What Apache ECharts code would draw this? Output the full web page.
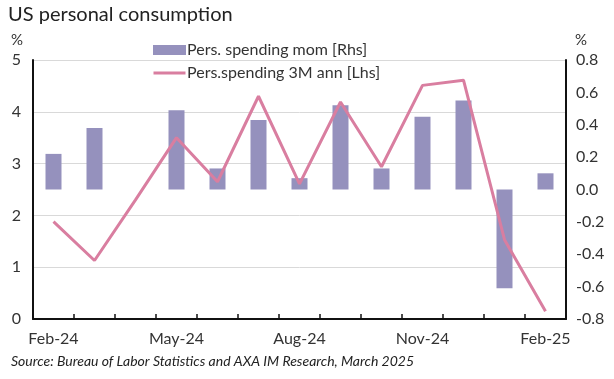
<!DOCTYPE html>
<html>
<head>
<meta charset="utf-8">
<script src="https://cdn.jsdelivr.net/npm/echarts@6/dist/echarts.min.js"></script>
<style>
html,body{margin:0;padding:0;background:#fff;}
#chart{width:614px;height:379px;}
</style>
</head>
<body>
<div id="chart"></div>
<script>
const categories = ['Feb-24','Mar-24','Apr-24','May-24','Jun-24','Jul-24','Aug-24','Sep-24','Oct-24','Nov-24','Dec-24','Jan-25','Feb-25'];
const spendingMom = [0.22, 0.38, 0.0, 0.49, 0.13, 0.43, 0.07, 0.52, 0.13, 0.45, 0.55, -0.61, 0.10];
const spending3mAnn = [1.88, 1.13, 2.3, 3.50, 2.65, 4.30, 2.61, 4.19, 2.94, 4.51, 4.61, 1.53, 0.15];
const leftTicks = [0, 5, 1];
const rightTicks = [-0.8, 0.8, 0.2];

const FONT = 'Lato, "Open Sans", sans-serif';
const LINE_ICON = 'path://M0,0 L0.01,0 L0.01,0.01 Z M0,3.6 L32,3.6 L32,6.4 L0,6.4 Z M32,10 L31.99,10 L31.99,9.99 Z';
const chart = echarts.init(document.getElementById('chart'));
chart.setOption({
  animation: false,
  backgroundColor: '#fff',
  textStyle: { fontFamily: FONT },
  grid: { left: 33, right: 48, top: 60, bottom: 60, containLabel: false },
  legend: {
    orient: 'vertical',
    left: 148,
    top: 37,
    itemWidth: 33,
    itemHeight: 10,
    itemGap: 7,
    textStyle: { fontFamily: FONT, fontSize: 16, color: '#333', padding: [0,0,0,-4] },
    data: [
      { name: 'Pers. spending mom [Rhs]', icon: 'rect' },
      { name: 'Pers.spending 3M ann [Lhs]', icon: LINE_ICON, itemStyle: { color: '#d97ea0' } }
    ]
  },
  graphic: [
    { type: 'text', left: 8, top: 5, style: { text: 'US personal consumption', fontFamily: FONT, fontSize: 20, fill: '#222' } },
    { type: 'text', left: 11, top: 33, style: { text: '%', fontFamily: FONT, fontSize: 15, fill: '#333' } },
    { type: 'text', left: 575, top: 33, style: { text: '%', fontFamily: FONT, fontSize: 15, fill: '#333' } },
    { type: 'text', left: 11, top: 354, style: { text: 'Source: Bureau of Labor Statistics and AXA IM Research, March 2025', fontFamily: FONT, fontSize: 14, fontStyle: 'italic', fill: '#222' } }
  ],
  xAxis: {
    type: 'category',
    data: categories,
    boundaryGap: true,
    axisLine: { show: true, onZero: false, lineStyle: { color: '#111', width: 2 } },
    axisTick: { show: true, inside: true, length: 5, interval: 0, lineStyle: { color: '#111', width: 1.5 } },
    axisLabel: { interval: 2, fontFamily: FONT, fontSize: 16, color: '#333', margin: 12 }
  },
  yAxis: [
    {
      type: 'value', min: leftTicks[0], max: leftTicks[1], interval: leftTicks[2], position: 'left',
      axisLine: { show: true, lineStyle: { color: '#111', width: 2 } },
      axisTick: { show: false },
      splitLine: { show: true, lineStyle: { color: '#d9d9d9', width: 1 } },
      axisLabel: { fontFamily: FONT, fontSize: 16, color: '#333', margin: 12 }
    },
    {
      type: 'value', min: rightTicks[0], max: rightTicks[1], interval: rightTicks[2], position: 'right',
      axisLine: { show: true, lineStyle: { color: '#111', width: 2 } },
      axisTick: { show: false },
      splitLine: { show: false },
      axisLabel: { fontFamily: FONT, fontSize: 16, color: '#333', margin: 10,
        formatter: v => (Math.abs(v) < 1e-9 ? 0 : v).toFixed(1) }
    }
  ],
  series: [
    {
      name: 'Pers. spending mom [Rhs]',
      type: 'bar',
      yAxisIndex: 1,
      data: spendingMom,
      barWidth: 16,
      itemStyle: { color: '#9591bd' },
      z: 2
    },
    {
      name: 'Pers.spending 3M ann [Lhs]',
      type: 'line',
      yAxisIndex: 0,
      data: spending3mAnn,
      symbol: 'none',
      lineStyle: { color: '#d97ea0', width: 3 },
      itemStyle: { color: '#d97ea0' },
      z: 3
    }
  ]
});
</script>
</body>
</html>
